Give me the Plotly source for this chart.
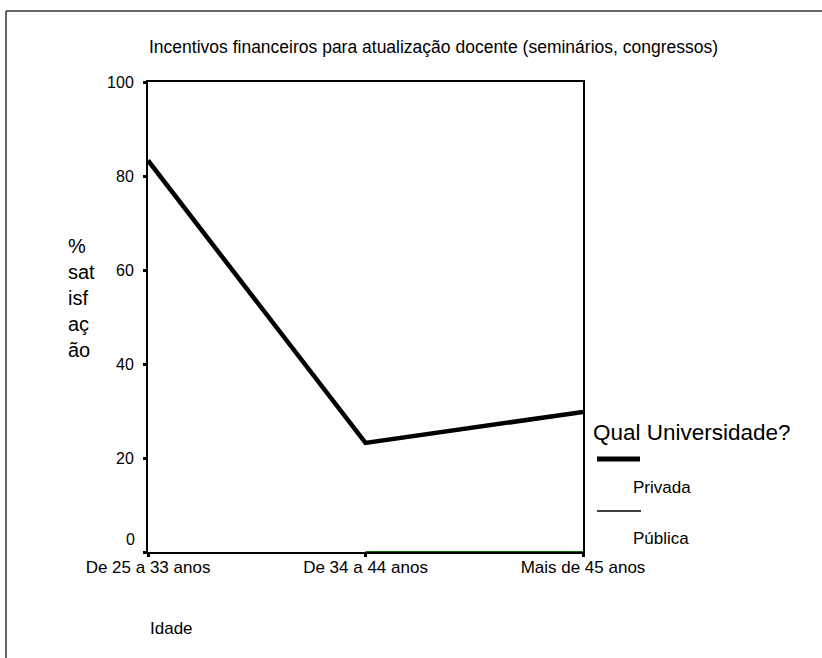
import plotly.graph_objects as go

# Age groups and share of satisfied teachers (%) by type of university
idades = ["De 25 a 33 anos", "De 34 a 44 anos", "Mais de 45 anos"]
privada = [83.3, 23.2, 29.8]
publica = [None, 0.0, 0.0]
y_ticks = [0, 20, 40, 60, 80, 100]

FONT = "Arial, Liberation Sans, sans-serif"
W, H = 822, 658
L, R, T, B = 148, 239, 82, 106
PW, PH = W - L - R, H - T - B


def px(x):
    return (x - L) / PW


def py(y):
    return (H - B - y) / PH


x_pos = list(range(len(idades)))
# the zero label sits a little above its tick, so it is placed separately
y_text = ["" if v == 0 else str(v) for v in y_ticks]

fig = go.Figure()
fig.add_trace(go.Scatter(
    x=x_pos, y=publica, mode="lines", name="Pública",
    line=dict(color="#0b6b0b", width=2), cliponaxis=False, showlegend=False,
))
fig.add_trace(go.Scatter(
    x=x_pos, y=privada, mode="lines", name="Privada",
    line=dict(color="black", width=4.5), cliponaxis=False, showlegend=False,
))

fig.update_layout(
    width=W, height=H,
    margin=dict(l=L, r=R, t=T, b=B),
    paper_bgcolor="white", plot_bgcolor="white",
    font=dict(family=FONT, color="black"),
    xaxis=dict(
        range=[0, 2], tickmode="array", tickvals=x_pos, ticktext=idades,
        showline=True, linecolor="black", linewidth=2, mirror=True,
        ticks="outside", ticklen=3, tickwidth=3, tickcolor="black",
        ticklabelstandoff=-4,
        showgrid=False, zeroline=False, tickfont=dict(size=17),
        layer="below traces", fixedrange=True,
    ),
    yaxis=dict(
        range=[0, 100], tickmode="array", tickvals=y_ticks, ticktext=y_text,
        showline=True, linecolor="black", linewidth=2, mirror=True,
        ticks="outside", ticklen=3, tickwidth=3, tickcolor="black",
        ticklabelstandoff=6,
        showgrid=False, zeroline=False, tickfont=dict(size=16),
        fixedrange=True,
    ),
)

ann = [
    dict(text="Incentivos financeiros para atualização docente (seminários, congressos)",
         x=px(433), y=py(47), xanchor="center", yanchor="middle", font=dict(size=17.5)),
    dict(text="%<br>sat<br>isf<br>aç<br>ão", x=px(66), y=py(298), xanchor="left",
         yanchor="middle", align="left", font=dict(size=20)),
    dict(text="Idade", x=px(148), y=py(628), xanchor="left", yanchor="middle",
         font=dict(size=17)),
    dict(text="Qual Universidade?", x=px(591), y=py(432), xanchor="left",
         yanchor="middle", font=dict(size=22.5)),
    dict(text="Privada", x=px(631), y=py(487), xanchor="left", yanchor="middle",
         font=dict(size=17)),
    dict(text="Pública", x=px(631), y=py(538), xanchor="left", yanchor="middle",
         font=dict(size=17)),
]
for a in ann:
    a.update(xref="paper", yref="paper", showarrow=False)
ann.append(dict(text=str(y_ticks[0]), xref="paper", yref="y", x=px(137), y=y_ticks[0],
                xanchor="right", yanchor="middle", yshift=13, showarrow=False,
                font=dict(size=16)))
fig.update_layout(annotations=ann)

shapes = [
    # legend swatches
    dict(type="line", x0=px(597), x1=px(640), y0=py(459), y1=py(459),
         line=dict(color="black", width=5)),
    dict(type="line", x0=px(597), x1=px(641), y0=py(511), y1=py(511),
         line=dict(color="black", width=1.5)),
    # outer frame (top and left edges)
    dict(type="line", x0=px(6), x1=px(W + 10), y0=py(11), y1=py(11),
         line=dict(color="#333333", width=1.5)),
    dict(type="line", x0=px(6), x1=px(6), y0=py(11), y1=py(H + 10),
         line=dict(color="#333333", width=1.5)),
]
for s in shapes:
    s.update(xref="paper", yref="paper", layer="above")
fig.update_layout(shapes=shapes)

fig.write_html("out.html")
